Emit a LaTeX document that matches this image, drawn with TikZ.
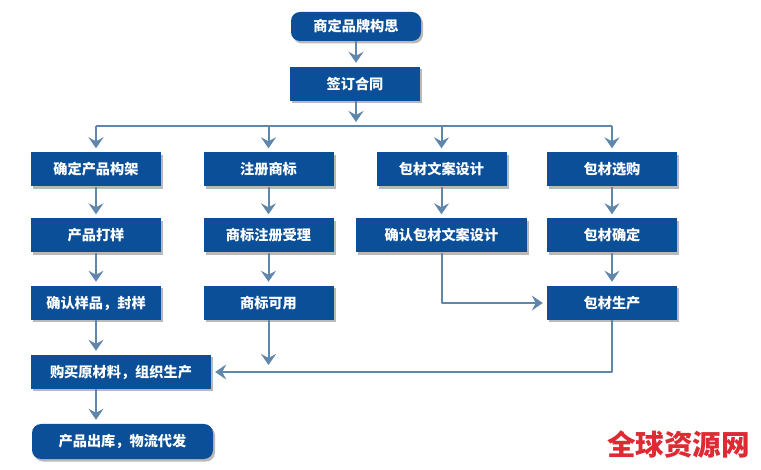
\documentclass[tikz,border=0pt]{standalone}
\usepackage{fontspec}
\usetikzlibrary{arrows.meta,shadows}
\setmainfont{Noto Sans CJK SC}
\definecolor{boxblue}{HTML}{0B4F98}
\definecolor{linkblue}{HTML}{5F86AB}
\definecolor{markred}{HTML}{DE2A33}
\tikzset{
	box/.style={fill=boxblue, text=white, font=\fontsize{14.2pt}{16pt}\selectfont\bfseries, inner sep=0pt, minimum height=34pt, minimum width=130pt,
		drop shadow={shadow xshift=2pt, shadow yshift=-2.5pt, fill=black!50, opacity=0.55}},
	endbox/.style={box, rounded corners=9pt},
	link/.style={draw=linkblue, line width=2pt},
	flow/.style={link, shorten >=4pt, -{Stealth[length=11pt,width=15pt,inset=4pt]}}
}
\begin{document}
\begin{tikzpicture}[x=1pt, y=-1pt, line join=round]
	\useasboundingbox (0,0) rectangle (761,470);
	\node[endbox, minimum height=29pt] (idea) at (356,26.5) {商定品牌构思};
	\node[box] (sign) at (355,84) {签订合同};
	\node[box] (frame) at (96,169.5) {确定产品构架};
	\node[box] (mark) at (268.5,169.5) {注册商标};
	\node[box] (copy) at (441.5,169.5) {包材文案设计};
	\node[box] (pack) at (612,169.5) {包材选购};
	\node[box] (proof) at (96,235.5) {产品打样};
	\node[box] (accept) at (268.5,235.5) {商标注册受理};
	\node[box, minimum width=171pt] (confirm) at (441.5,235.5) {确认包材文案设计};
	\node[box] (packok) at (612,235.5) {包材确定};
	\node[box] (sample) at (96,303) {确认样品，封样};
	\node[box] (usable) at (268.5,303) {商标可用};
	\node[box] (packmake) at (612,303) {包材生产};
	\node[box, minimum width=180pt] (buy) at (121,372) {购买原材料，组织生产};
	\node[endbox, minimum width=181pt, minimum height=35pt] (ship) at (122.5,441.5) {产品出库，物流代发};
	\node[text=markred, font=\fontsize{28.6pt}{30pt}\selectfont\bfseries, inner sep=0pt] (site) at (678.5,445) {全球资源网};
	\coordinate (bus) at (356,126);
	\coordinate (usableend) at (268.5,369);
	\draw[flow] (idea) -- (sign.north -| idea);
	\draw[flow] (sign.south -| idea) -- (bus);
	\draw[link] (frame.north |- bus) -- (pack.north |- bus);
	\foreach \n in {frame, mark, copy, pack}
		\draw[flow] (\n.north |- bus) -- (\n.north);
	\draw[flow] (frame) -- (proof);
	\draw[flow] (proof) -- (sample);
	\draw[flow] (sample) -- (buy.north -| sample);
	\draw[flow] (buy.south -| sample) -- (ship.north -| sample);
	\draw[flow] (mark) -- (accept);
	\draw[flow] (accept) -- (usable);
	\draw[flow] (usable) -- (usableend);
	\draw[flow] (copy) -- (confirm);
	\draw[flow] (pack) -- (packok);
	\draw[flow] (packok) -- (packmake);
	\draw[flow] (confirm) |- (packmake);
	\draw[flow] (packmake) |- (buy);
\end{tikzpicture}
\end{document}
